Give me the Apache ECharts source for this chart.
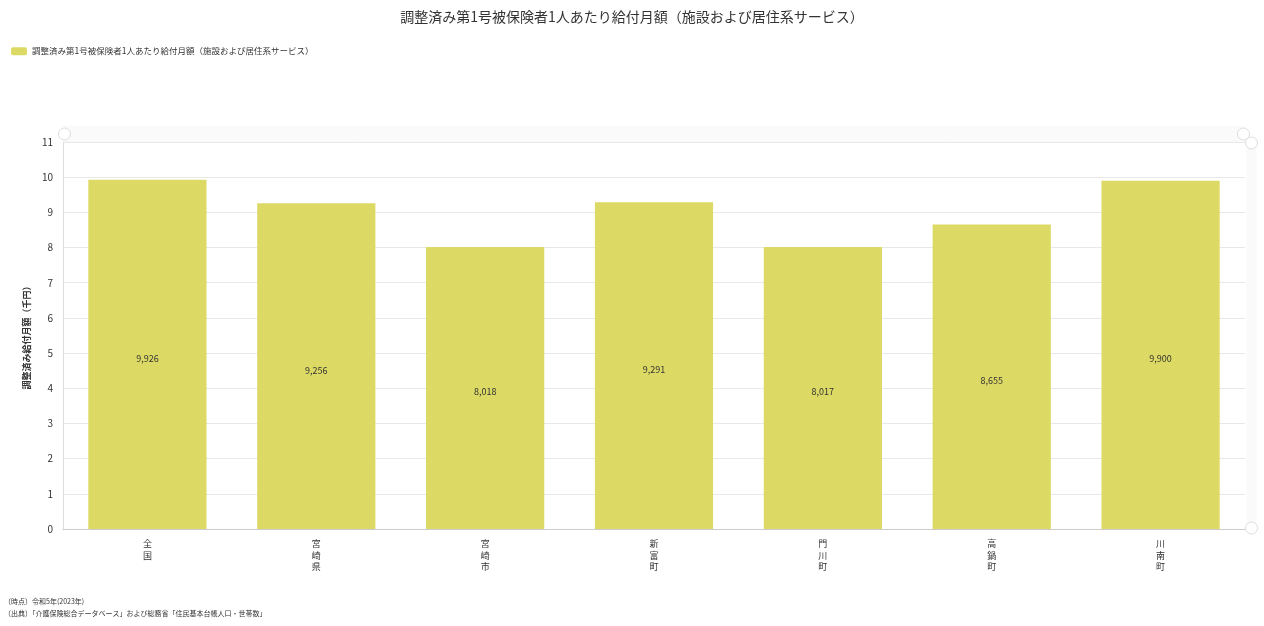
<!DOCTYPE html>
<html><head><meta charset="utf-8">
<script src="https://cdn.jsdelivr.net/npm/echarts@6/dist/echarts.min.js"></script>
<style>html,body{margin:0;padding:0;background:#fff}#c{width:1264px;height:626px}</style>
</head><body><div id="c"></div>
<script>
const titleText = '調整済み第1号被保険者1人あたり給付月額（施設および居住系サービス）';
const seriesName = '調整済み第1号被保険者1人あたり給付月額（施設および居住系サービス）';
const yAxisName = '調整済み給付月額（千円）';
const categories = ['全国', '宮崎県', '宮崎市', '新富町', '門川町', '高鍋町', '川南町'];
const values = [9926, 9256, 8018, 9291, 8017, 8655, 9900];
const yTicks = [0, 1, 2, 3, 4, 5, 6, 7, 8, 9, 10, 11];
const footnotes = ['（時点）令和5年(2023年)', '（出典）「介護保険総合データベース」および総務省「住民基本台帳人口・世帯数」'];

const font = '"Noto Sans CJK JP", "Noto Sans", sans-serif';
const chart = echarts.init(document.getElementById('c'));
chart.setOption({
  animation: false,
  textStyle: { fontFamily: font },
  title: { text: titleText, left: 'center', top: 5, textStyle: { fontSize: 14, fontWeight: 'normal', color: '#333', fontFamily: font } },
  legend: { left: 6, top: 42, itemWidth: 16, itemHeight: 8, itemGap: 10, textStyle: { fontSize: 8.5, color: '#333' }, data: [seriesName] },
  grid: { left: 63, right: 19, top: 142, bottom: 97 },
  xAxis: {
    type: 'category', data: categories,
    axisLine: { lineStyle: { color: '#ccc' } },
    axisTick: { alignWithLabel: true, lineStyle: { color: '#ccc' } },
    axisLabel: { color: '#333', fontSize: 9, lineHeight: 11.5, margin: 9, formatter: v => v.split('').join('\n') }
  },
  yAxis: {
    type: 'value', min: 0, max: yTicks[yTicks.length - 1] * 1000, interval: 1000,
    name: yAxisName, nameLocation: 'middle', nameGap: 28, nameRotate: 90,
    nameTextStyle: { fontSize: 9, fontWeight: 'bold', color: '#333' },
    axisLine: { show: true, lineStyle: { color: '#ddd' } },
    axisTick: { show: false },
    splitLine: { lineStyle: { color: '#e8e8e8' } },
    axisLabel: { color: '#333', fontSize: 10, margin: 10, formatter: v => String(v / 1000) }
  },
  dataZoom: [
    { type: 'slider', xAxisIndex: 0, top: 126, height: 16, left: 62, right: 21,
      showDataShadow: false, showDetail: false, backgroundColor: '#fafafa', borderColor: 'transparent',
      fillerColor: 'rgba(250,250,250,0.4)', moveHandleSize: 0, brushSelect: false,
      handleIcon: 'circle', handleSize: 12, handleStyle: { color: '#fff', borderColor: '#ddd' } },
    { type: 'slider', yAxisIndex: 0, right: 8, width: 10, top: 142, bottom: 97,
      showDataShadow: false, showDetail: false, backgroundColor: '#fbfbfb', borderColor: 'transparent',
      fillerColor: 'rgba(250,250,250,0.4)', moveHandleSize: 0, brushSelect: false,
      handleIcon: 'circle', handleSize: 12, handleStyle: { color: '#fff', borderColor: '#ddd' } }
  ],
  series: [{
    name: seriesName, type: 'bar', data: values, barCategoryGap: '30%',
    itemStyle: { color: '#dcd965' },
    label: { show: true, position: 'inside', offset: [0, 4], color: '#333', fontSize: 9, formatter: p => p.value.toLocaleString('en-US') }
  }],
  graphic: footnotes.map((t, i) => ({ type: 'text', left: 4, top: 598 + i * 12, style: { text: t, fontSize: 7, fill: '#333', fontFamily: font } }))
});
</script></body></html>
